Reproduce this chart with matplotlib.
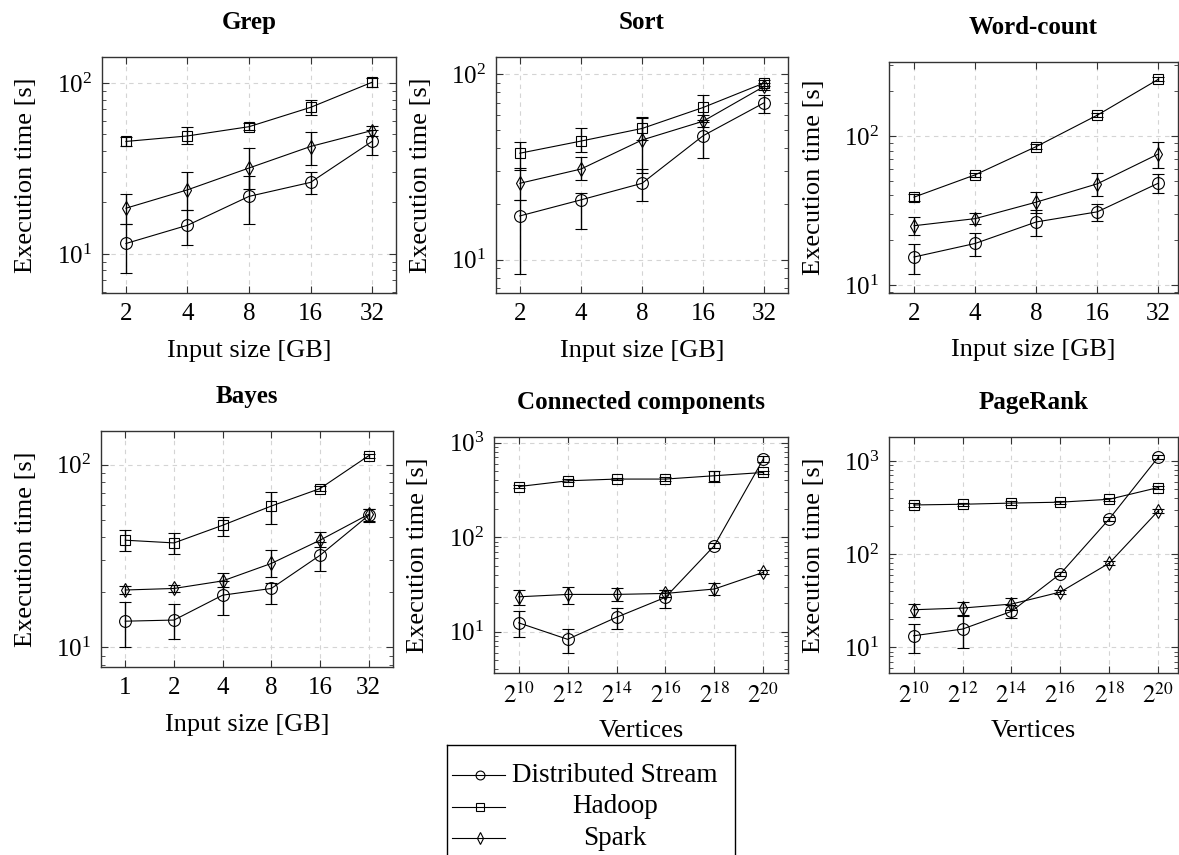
import numpy as np
import matplotlib
matplotlib.use("Agg")
import matplotlib.pyplot as plt
from matplotlib.ticker import LogLocator, NullFormatter, NullLocator, FixedLocator, FixedFormatter

# ---- data ----
gb5 = [2, 4, 8, 16, 32]
gb6 = [1, 2, 4, 8, 16, 32]
vert = [2**10, 2**12, 2**14, 2**16, 2**18, 2**20]
gb5_labels = ["2", "4", "8", "16", "32"]
gb6_labels = ["1", "2", "4", "8", "16", "32"]
vert_labels = [r"$2^{10}$", r"$2^{12}$", r"$2^{14}$", r"$2^{16}$", r"$2^{18}$", r"$2^{20}$"]

# Grep
grep_ds = [11.5, 14.7, 21.7, 26.2, 45.5]
grep_ds_lo = [7.7, 11.2, 15.0, 22.5, 38.0]
grep_ds_hi = [15.0, 18.0, 28.5, 30.0, 53.0]
grep_hd = [45.5, 49.0, 55.5, 72.0, 101.0]
grep_hd_lo = [43.0, 44.0, 53.0, 65.0, 95.0]
grep_hd_hi = [48.0, 55.0, 58.0, 80.0, 107.0]
grep_sp = [18.5, 23.7, 31.8, 42.5, 52.7]
grep_sp_lo = [15.0, 18.0, 24.0, 33.0, 49.0]
grep_sp_hi = [22.3, 30.0, 41.6, 52.0, 56.0]

# Sort
sort_ds = [17.2, 21.0, 25.8, 46.6, 70.2]
sort_ds_lo = [8.4, 14.7, 20.7, 35.5, 61.5]
sort_ds_hi = [21.0, 23.0, 31.0, 55.0, 77.0]
sort_hd = [37.5, 43.6, 51.0, 66.2, 89.8]
sort_hd_lo = [30.5, 38.2, 44.0, 56.6, 86.0]
sort_hd_hi = [43.3, 51.4, 58.9, 77.8, 93.0]
sort_sp = [25.8, 30.8, 44.2, 55.8, 86.1]
sort_sp_lo = [21.0, 26.9, 29.3, 52.0, 82.0]
sort_sp_hi = [31.1, 36.0, 57.8, 60.0, 90.0]

# Word-count
wc_ds = [15.5, 19.1, 26.6, 31.1, 48.4]
wc_ds_lo = [12.0, 15.7, 21.3, 26.8, 41.5]
wc_ds_hi = [18.8, 22.5, 32.1, 35.2, 55.8]
wc_hd = [39.0, 55.0, 85.0, 138.0, 240.0]
wc_hd_lo = [37.0, 53.5, 82.0, 134.0, 232.0]
wc_hd_hi = [41.0, 56.5, 88.0, 142.0, 248.0]
wc_sp = [25.1, 28.0, 36.1, 47.9, 75.9]
wc_sp_lo = [21.9, 25.8, 30.5, 39.8, 60.9]
wc_sp_hi = [28.7, 30.5, 41.9, 56.9, 91.6]

# Bayes
by_ds = [13.9, 14.1, 19.3, 21.0, 31.9, 52.8]
by_ds_lo = [10.0, 11.1, 15.1, 17.3, 26.3, 49.0]
by_ds_hi = [17.7, 17.2, 23.0, 22.4, 37.8, 57.0]
by_hd = [38.6, 37.3, 46.6, 59.4, 74.0, 112.0]
by_hd_lo = [33.7, 32.4, 40.8, 47.6, 72.0, 109.0]
by_hd_hi = [43.8, 42.3, 51.8, 70.8, 76.0, 115.0]
by_sp = [20.6, 21.0, 23.1, 28.8, 38.6, 53.5]
by_sp_lo = [19.6, 20.0, 21.4, 24.3, 35.5, 48.5]
by_sp_hi = [21.6, 22.0, 25.4, 34.0, 42.9, 57.5]

# Connected components
cc_ds = [12.4, 8.3, 14.2, 23.1, 81.5, 673.0]
cc_ds_lo = [8.7, 5.9, 10.8, 17.6, 77.0, 620.0]
cc_ds_hi = [16.6, 10.8, 17.6, 27.5, 86.0, 730.0]
cc_hd = [344.0, 396.0, 413.0, 413.0, 448.0, 485.0]
cc_hd_lo = [330.0, 380.0, 400.0, 395.0, 380.0, 465.0]
cc_hd_hi = [358.0, 412.0, 426.0, 430.0, 506.0, 505.0]
cc_sp = [23.4, 24.8, 24.8, 25.4, 28.3, 42.5]
cc_sp_lo = [19.1, 19.5, 21.0, 23.5, 24.4, 40.5]
cc_sp_hi = [27.5, 29.9, 29.0, 27.8, 32.5, 44.5]

# PageRank
pr_ds = [13.3, 15.7, 24.3, 61.5, 239.0, 1096.0]
pr_ds_lo = [8.7, 9.8, 20.6, 58.0, 228.0, 1050.0]
pr_ds_hi = [17.9, 21.8, 28.6, 65.0, 250.0, 1150.0]
pr_hd = [337.0, 343.0, 353.0, 361.0, 388.0, 518.0]
pr_hd_lo = [322.0, 328.0, 338.0, 346.0, 372.0, 495.0]
pr_hd_hi = [352.0, 358.0, 368.0, 376.0, 404.0, 541.0]
pr_sp = [25.3, 26.4, 29.1, 39.2, 80.1, 291.0]
pr_sp_lo = [21.4, 22.3, 25.3, 37.0, 76.0, 275.0]
pr_sp_hi = [29.3, 31.0, 33.8, 41.5, 84.0, 308.0]

series_names = ["Distributed Stream", "Hadoop", "Spark"]

# ---- style ----
plt.rcParams["font.family"] = ["Liberation Serif", "DejaVu Serif"]
plt.rcParams["mathtext.fontset"] = "stix"
plt.rcParams["xtick.direction"] = "in"
plt.rcParams["ytick.direction"] = "in"
plt.rcParams["xtick.top"] = True
plt.rcParams["ytick.right"] = True

W, H = 1179, 855
fig = plt.figure(figsize=(W / 100, H / 100), dpi=100)

styles = [dict(marker="o", ms=8.5), dict(marker="s", ms=7.5), dict(marker="d", ms=7.5)]


def add_ax(left, top, right, bottom):
    return fig.add_axes([left / W, 1 - bottom / H, (right - left) / W, (bottom - top) / H])


def panel(ax, title, x, labels, xlabel, data, ylim, xpad):
    for (y, lo, hi), st in zip(data, styles):
        y, lo, hi = np.array(y), np.array(lo), np.array(hi)
        ax.errorbar(x, y, yerr=[y - lo, hi - y], color="k", lw=0.8,
                    mfc="none", mec="k", mew=0.8, elinewidth=1.0,
                    capsize=4, capthick=1.0, **st)
    ax.set_xscale("log", base=2)
    ax.set_yscale("log")
    ax.set_xlim(x[0] / 2 ** xpad[0], x[-1] * 2 ** xpad[1])
    ax.set_ylim(*ylim)
    ax.xaxis.set_major_locator(FixedLocator(x))
    ax.xaxis.set_major_formatter(FixedFormatter(labels))
    ax.xaxis.set_minor_locator(NullLocator())
    ax.yaxis.set_major_locator(LogLocator(base=10))
    ax.yaxis.set_minor_locator(LogLocator(base=10, subs=np.arange(2, 10)))
    ax.yaxis.set_minor_formatter(NullFormatter())
    ax.grid(True, which="major", color="#d4d4d4", lw=0.8, dashes=(4, 4))
    ax.set_axisbelow(True)
    ax.tick_params(which="major", length=5, width=0.8, labelsize=18, pad=7, color="#333333")
    ax.tick_params(which="minor", length=3, width=0.6, color="#333333")
    for s in ax.spines.values():
        s.set_color("#333333")
        s.set_linewidth(1.0)
    ax.set_title(title, fontsize=18, fontweight="bold", pad=20)
    ax.set_xlabel(xlabel, fontsize=19)
    ax.set_ylabel("Execution time [s]", fontsize=19)
    ax.xaxis.set_label_coords(0.5, -0.2)
    ax.yaxis.set_label_coords(-0.22, 0.5)


panel(add_ax(102, 57, 396, 293), "Grep", gb5, gb5_labels, "Input size [GB]",
      [(grep_ds, grep_ds_lo, grep_ds_hi), (grep_hd, grep_hd_lo, grep_hd_hi), (grep_sp, grep_sp_lo, grep_sp_hi)],
      (5.9, 142), (0.39, 0.39))
panel(add_ax(496, 57, 788, 293), "Sort", gb5, gb5_labels, "Input size [GB]",
      [(sort_ds, sort_ds_lo, sort_ds_hi), (sort_hd, sort_hd_lo, sort_hd_hi), (sort_sp, sort_sp_lo, sort_sp_hi)],
      (6.6, 124), (0.39, 0.39))
panel(add_ax(889, 62, 1178, 293), "Word-count", gb5, gb5_labels, "Input size [GB]",
      [(wc_ds, wc_ds_lo, wc_ds_hi), (wc_hd, wc_hd_lo, wc_hd_hi), (wc_sp, wc_sp_lo, wc_sp_hi)],
      (8.9, 313), (0.41, 0.32))
panel(add_ax(101, 431, 393, 667), "Bayes", gb6, gb6_labels, "Input size [GB]",
      [(by_ds, by_ds_lo, by_ds_hi), (by_hd, by_hd_lo, by_hd_hi), (by_sp, by_sp_lo, by_sp_hi)],
      (7.8, 153), (0.5, 0.5))
panel(add_ax(494, 437, 788, 673), "Connected components", vert, vert_labels, "Vertices",
      [(cc_ds, cc_ds_lo, cc_ds_hi), (cc_hd, cc_hd_lo, cc_hd_hi), (cc_sp, cc_sp_lo, cc_sp_hi)],
      (3.65, 1152), (1.01, 1.01))
panel(add_ax(889, 437, 1178, 673), "PageRank", vert, vert_labels, "Vertices",
      [(pr_ds, pr_ds_lo, pr_ds_hi), (pr_hd, pr_hd_lo, pr_hd_hi), (pr_sp, pr_sp_lo, pr_sp_hi)],
      (5.3, 1807), (1.01, 0.81))

# ---- legend box (pgfplots style, centred labels) ----
lg = add_ax(447, 745, 735, 862)
lg.set_xlim(447, 735)
lg.set_ylim(862, 745)
lg.set_xticks([])
lg.set_yticks([])
for s in lg.spines.values():
    s.set_linewidth(1.0)
for i, (name, st) in enumerate(zip(series_names, styles)):
    yy = 775 + i * 31.5
    lg.plot([452, 480, 505], [yy, yy, yy], color="k", lw=0.8, markevery=[1],
            mfc="none", mec="k", mew=0.8, marker=st["marker"], ms=st["ms"] * 0.75)
    lg.text(615, yy, name, ha="center", va="center", fontsize=19.5)

fig.savefig("out.png", dpi=100)
